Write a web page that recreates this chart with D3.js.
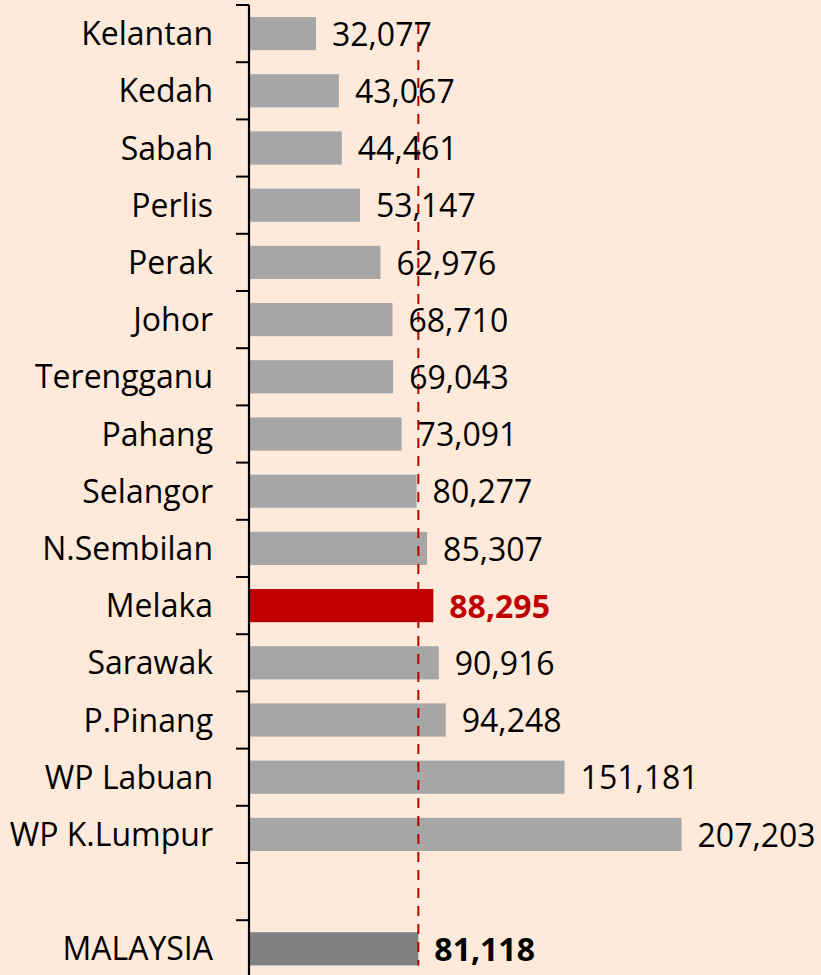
<!DOCTYPE html>
<html>
<head>
<meta charset="utf-8">
<script src="https://cdn.jsdelivr.net/npm/d3@7/dist/d3.min.js"></script>
<style>
  html, body { margin: 0; padding: 0; background: #FDEADA; }
  svg { display: block; }
  text { font-family: "Open Sans", "Noto Sans", sans-serif; }
</style>
</head>
<body>
<svg id="chart" width="821" height="975"></svg>
<script>
// GDP per capita by state (RM)
const states = ["Kelantan", "Kedah", "Sabah", "Perlis", "Perak", "Johor", "Terengganu",
  "Pahang", "Selangor", "N.Sembilan", "Melaka", "Sarawak", "P.Pinang", "WP Labuan", "WP K.Lumpur"];
const values = [32077, 43067, 44461, 53147, 62976, 68710, 69043,
  73091, 80277, 85307, 88295, 90916, 94248, 151181, 207203];
const nationalLabel = "MALAYSIA";
const nationalValue = 81118;
const highlightState = "Melaka";

const W = 821, H = 975;
const svg = d3.select("#chart");

svg.append("rect").attr("width", W).attr("height", H).attr("fill", "#FDEADA");

// rows: states, one empty spacer row, then the national figure
const spacer = " ";
const rows = states.map((s, i) => ({ name: s, value: values[i], kind: s === highlightState ? "hl" : "state" }));
rows.push({ name: spacer, value: null, kind: "blank" });
rows.push({ name: nationalLabel, value: nationalValue, kind: "nat" });

const axisX = 249;
const rowStep = 57.2;
const plotTop = 5;
const fontPx = 32;

const x = d3.scaleLinear().domain([0, 274000]).range([axisX, W]);
const y = d3.scaleBand()
  .domain(rows.map(d => d.name))
  .range([plotTop, plotTop + rows.length * rowStep])
  .paddingInner(0.42)
  .paddingOuter(0.21);

const fillFor = { state: "#A6A6A6", hl: "#C00000", nat: "#808080" };
const fmt = d3.format(",");
const data = rows.filter(d => d.value !== null);

// bars
svg.append("g").selectAll("rect")
  .data(data)
  .join("rect")
  .attr("x", x(0))
  .attr("y", d => y(d.name))
  .attr("width", d => x(d.value) - x(0))
  .attr("height", y.bandwidth())
  .attr("fill", d => fillFor[d.kind]);

// national average reference line
svg.append("line")
  .attr("x1", x(nationalValue)).attr("x2", x(nationalValue))
  .attr("y1", 24).attr("y2", y(nationalLabel) + y.bandwidth())
  .attr("stroke", "#C00000")
  .attr("stroke-width", 2)
  .attr("stroke-dasharray", "10,8");

// category axis: labels at band centres
const yAxis = svg.append("g")
  .attr("transform", `translate(${axisX},0)`)
  .call(d3.axisLeft(y).tickSize(0).tickPadding(36));
yAxis.select(".domain").remove();
yAxis.selectAll("text")
  .attr("font-size", fontPx)
  .attr("fill", "#000")
  .attr("dy", "0.36em")
  .style("font-family", "'Open Sans', sans-serif");

// axis line and tick marks between categories
const axisG = svg.append("g");
axisG.append("line")
  .attr("x1", axisX).attr("x2", axisX)
  .attr("y1", plotTop).attr("y2", H)
  .attr("stroke", "#000").attr("stroke-width", 2.2);
axisG.selectAll("line.tick")
  .data(rows)
  .join("line")
  .attr("class", "tick")
  .attr("x1", axisX - 13).attr("x2", axisX)
  .attr("y1", d => y(d.name) - y.step() * y.paddingOuter())
  .attr("y2", d => y(d.name) - y.step() * y.paddingOuter())
  .attr("stroke", "#000").attr("stroke-width", 2);

// value labels
svg.append("g").selectAll("text")
  .data(data)
  .join("text")
  .attr("x", d => x(d.value) + 16)
  .attr("y", d => y(d.name) + y.bandwidth() / 2)
  .attr("dy", "0.38em")
  .attr("font-size", fontPx)
  .attr("font-weight", d => d.kind === "state" ? 400 : 700)
  .attr("fill", d => d.kind === "hl" ? "#C00000" : "#000")
  .text(d => fmt(d.value));
</script>
</body>
</html>
